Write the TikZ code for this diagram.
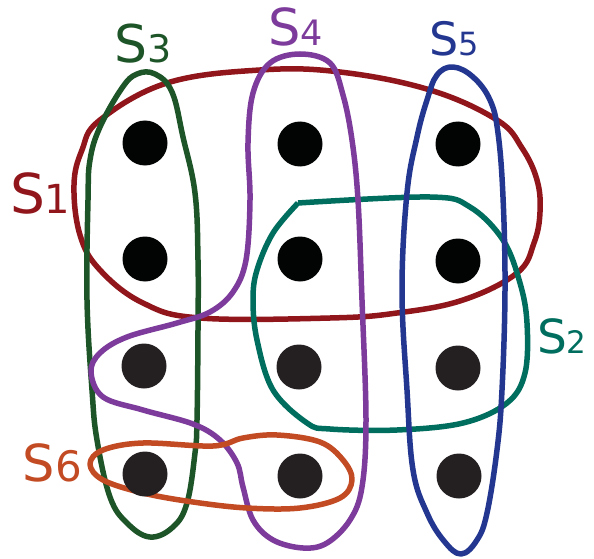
\documentclass[tikz,border=0pt]{standalone}
\usepackage{fontspec}
\setmainfont{DejaVu Sans}
\definecolor{cRed}{RGB}{145,22,28}
\definecolor{cTeal}{RGB}{0,110,95}
\definecolor{cGreen}{RGB}{30,85,40}
\definecolor{cPurple}{RGB}{125,60,155}
\definecolor{cBlue}{RGB}{35,55,145}
\definecolor{cOrange}{RGB}{195,75,35}
\definecolor{dotTop}{RGB}{2,4,3}
\definecolor{dotBot}{RGB}{36,32,33}
\tikzset{
  setline/.style={line width=5.5pt, line join=round},
  lab/.style={anchor=base west, inner sep=0pt, outer sep=0pt},
  dotnode/.style={circle, minimum size=45pt, inner sep=0pt, fill=#1}
}
\newcommand{\lsz}[2]{\fontsize{#1}{#1}\selectfont #2}
\begin{document}
\begin{tikzpicture}[x=1pt,y=-1pt]
\useasboundingbox (0,0) rectangle (594,559);
% S1
\draw[setline, cRed] plot[smooth cycle, tension=0.65] coordinates {(74,185) (82,150) (100,120) (167,83) (260,70) (340,72) (430,90) (497,120) (522,148) (537,180) (540,212) (534,243) (517,273) (463,300) (397,313) (330,318) (200,318) (143,303) (100,270) (80,235)};
% S2
\draw[setline, cTeal] plot[smooth, tension=0.6] coordinates {(298,203) (430,197) (470,207) (503,240) (520,283) (527,323) (525,373) (507,403) (463,423) (397,430) (330,429) (307,423) (273,390) (257,340) (253,300) (257,270) (273,233) (298,203)};
% S3
\draw[setline, cGreen] plot[smooth cycle, tension=0.65] coordinates {(137,74) (155,74) (172,92) (183,137) (195,193) (198,260) (198,330) (197,420) (195,453) (187,503) (173,527) (150,537) (127,523) (110,497) (97,440) (92,390) (87,300) (88,200) (90,160) (100,127) (122,88)};
% S4
\draw[setline, cPurple] plot[smooth cycle, tension=0.6] coordinates {(300,54) (330,63) (343,95) (352,140) (358,200) (362,300) (366,420) (362,487) (350,520) (327,543) (303,548) (273,540) (253,520) (243,487) (237,463) (220,440) (193,424) (143,410) (103,397) (91,372) (100,353) (127,337) (177,323) (210,312) (233,292) (246,260) (250,200) (248,143) (253,93) (270,63)};
% S5
\draw[setline, cBlue] plot[smooth cycle, tension=0.65] coordinates {(453,67) (473,77) (490,100) (498,133) (503,197) (505,290) (502,390) (497,450) (487,513) (477,540) (461,554) (444,541) (427,513) (413,470) (407,390) (402,290) (407,193) (417,137) (427,100) (437,75)};
% S6
\draw[setline, cOrange] plot[smooth cycle, tension=0.6] coordinates {(90,464) (103,450) (143,443) (213,446) (243,438) (277,435) (320,442) (343,460) (352,480) (340,498) (300,508) (247,508) (193,502) (143,493) (103,480)};
% dots
\node[dotnode=dotTop] (d11) at (145,143) {};
\node[dotnode=dotTop] (d12) at (300,144) {};
\node[dotnode=dotTop] (d13) at (458,144) {};
\node[dotnode=dotTop] (d21) at (145,259) {};
\node[dotnode=dotTop] (d22) at (300,259) {};
\node[dotnode=dotTop] (d23) at (458,261) {};
\node[dotnode=dotBot] (d31) at (144,366) {};
\node[dotnode=dotBot] (d32) at (299,367) {};
\node[dotnode=dotBot] (d33) at (458,368) {};
\node[dotnode=dotBot] (d41) at (145,474) {};
\node[dotnode=dotBot] (d42) at (300,476) {};
\node[dotnode=dotBot] (d43) at (459,476) {};
% labels
\node[lab, text=cRed] (l1) at (10,213) {\lsz{55pt}{S}\lsz{40pt}{1}};
\node[lab, text=cTeal] (l2) at (537,353) {\lsz{47pt}{S}\lsz{31pt}{2}};
\node[lab, text=cGreen] (l3) at (114,63) {\lsz{52pt}{S}\lsz{38pt}{3}};
\node[lab, text=cPurple] (l4) at (268,46) {\lsz{51pt}{S}\lsz{35pt}{4}};
\node[lab, text=cBlue] (l5) at (429,56) {\lsz{46pt}{S}\lsz{32pt}{5}};
\node[lab, text=cOrange] (l6) at (23,481) {\lsz{51pt}{S}\lsz{42pt}{6}};
\end{tikzpicture}
\end{document}
